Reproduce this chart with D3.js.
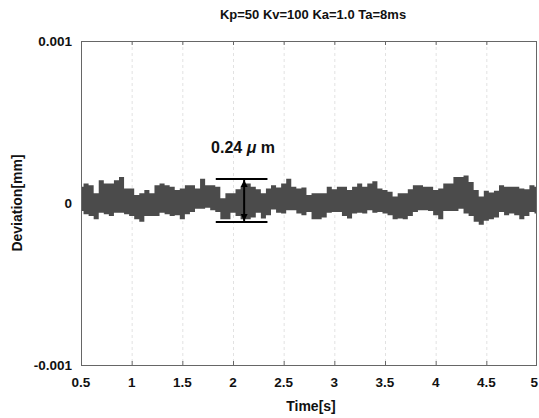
<!DOCTYPE html>
<html>
<head>
<meta charset="utf-8">
<script src="https://cdn.jsdelivr.net/npm/d3@7"></script>
<style>
  body { margin: 0; background: #fff; }
  text { font-family: Arial, "Liberation Sans", sans-serif; font-weight: bold; fill: #111; }
</style>
</head>
<body>
<svg id="chart" width="539" height="418"></svg>
<script>
const title = 'Kp=50 Kv=100 Ka=1.0 Ta=8ms';
const xTicks = [0.5, 1, 1.5, 2, 2.5, 3, 3.5, 4, 4.5, 5];
const yTicks = [0.001, 0, -0.001];
const yTickLabels = ['0.001', '0', '-0.001'];

// deviation envelope, in micrometres, every 0.05 s from 0.5 s
const upperUm = [
  0.10, 0.12, 0.11, 0.06, 0.14, 0.12, 0.12, 0.14, 0.16, 0.09,
  0.09, 0.05, 0.06, 0.08, 0.06, 0.11, 0.12, 0.11, 0.10, 0.08,
  0.09, 0.11, 0.11, 0.09, 0.15, 0.11, 0.11, 0.10, 0.03, 0.06,
  0.06, 0.085, 0.10, 0.12, 0.10, 0.085, 0.06, 0.09, 0.11, 0.095,
  0.12, 0.15, 0.10, 0.09, 0.095, 0.05, 0.06, 0.06, 0.06, 0.10,
  0.085, 0.10, 0.10, 0.08, 0.10, 0.12, 0.10, 0.12, 0.135, 0.09,
  0.08, 0.07, 0.04, 0.06, 0.06, 0.085, 0.11, 0.11, 0.10, 0.10,
  0.08, 0.09, 0.12, 0.12, 0.16, 0.16, 0.17, 0.13, 0.08, 0.04,
  0.075, 0.065, 0.075, 0.11, 0.10, 0.10, 0.10, 0.09, 0.085, 0.11,
  0.10
];
const lowerUm = [
  -0.05, -0.07, -0.08, -0.10, -0.06, -0.07, -0.08, -0.06, -0.06, -0.07,
  -0.08, -0.10, -0.115, -0.08, -0.08, -0.08, -0.06, -0.07, -0.08, -0.075,
  -0.10, -0.07, -0.055, -0.035, -0.035, -0.03, -0.045, -0.055, -0.10, -0.10,
  -0.06, -0.08, -0.10, -0.10, -0.09, -0.06, -0.095, -0.075, -0.04, -0.06,
  -0.065, -0.045, -0.045, -0.065, -0.075, -0.055, -0.10, -0.10, -0.09, -0.06,
  -0.055, -0.055, -0.08, -0.095, -0.065, -0.06, -0.065, -0.045, -0.06, -0.055,
  -0.065, -0.075, -0.10, -0.095, -0.10, -0.08, -0.055, -0.045, -0.045, -0.05,
  -0.075, -0.10, -0.05, -0.05, -0.05, -0.035, -0.065, -0.08, -0.115, -0.135,
  -0.11, -0.10, -0.09, -0.055, -0.075, -0.065, -0.075, -0.10, -0.08, -0.055,
  -0.065
];

// peak-to-peak marker
const markTime = [1.83, 2.34];
const markArrowTime = 2.11;
const markTop = 0.000148;
const markBottom = -0.000117;

const svg = d3.select('#chart');
const margin = { top: 41, right: 2, bottom: 53, left: 81 };
const W = 539, H = 418;
const x = d3.scaleLinear().domain([0.5, 5]).range([margin.left, W - margin.right]);
const y = d3.scaleLinear().domain([-0.001, 0.001]).range([H - margin.bottom, margin.top]);

const defs = svg.append('defs');
defs.append('marker')
  .attr('id', 'ah')
  .attr('viewBox', '0 0 10 10')
  .attr('refX', 10).attr('refY', 5)
  .attr('markerWidth', 7).attr('markerHeight', 8)
  .attr('markerUnits', 'userSpaceOnUse')
  .attr('orient', 'auto-start-reverse')
  .append('path').attr('d', 'M0,0 L10,5 L0,10 Z').attr('fill', '#000');

// vertical dashed grid
svg.append('g').selectAll('line')
  .data(xTicks.slice(1, -1))
  .join('line')
  .attr('x1', d => x(d) + 0.5).attr('x2', d => x(d) + 0.5)
  .attr('y1', y(0.001)).attr('y2', y(-0.001))
  .attr('stroke', '#e2e2e2').attr('stroke-dasharray', '3,3');

// deviation band
const band = upperUm.map((u, i) => ({ t: 0.5 + i * 0.05, hi: u / 1000, lo: lowerUm[i] / 1000 }));
const area = d3.area()
  .x(d => x(d.t))
  .y0(d => y(d.lo))
  .y1(d => y(d.hi))
  .curve(d3.curveStep);
svg.append('path').datum(band).attr('d', area).attr('fill', '#4b4b4b');

// frame
svg.append('rect')
  .attr('x', x(0.5) + 0.5).attr('y', y(0.001) + 0.5)
  .attr('width', x(5) - x(0.5) - 1).attr('height', y(-0.001) - y(0.001))
  .attr('fill', 'none').attr('stroke', '#666');

// inner ticks top and bottom
const tk = svg.append('g').attr('stroke', '#666');
xTicks.slice(1, -1).forEach(d => {
  tk.append('line').attr('x1', x(d) + 0.5).attr('x2', x(d) + 0.5)
    .attr('y1', y(-0.001)).attr('y2', y(-0.001) - 4);
  tk.append('line').attr('x1', x(d) + 0.5).attr('x2', x(d) + 0.5)
    .attr('y1', y(0.001)).attr('y2', y(0.001) + 4);
});

// x labels (last one kept inside the picture edge)
const last = xTicks[xTicks.length - 1];
svg.append('g').selectAll('text')
  .data(xTicks)
  .join('text')
  .attr('x', d => d === last ? W - 1 : x(d)).attr('y', 387)
  .attr('text-anchor', d => d === last ? 'end' : 'middle').attr('font-size', 13.5)
  .text(d => d);

// y labels
svg.append('g').selectAll('text')
  .data(yTicks)
  .join('text')
  .attr('x', 72).attr('y', d => y(d) + 5)
  .attr('text-anchor', 'end').attr('font-size', 13.5)
  .text((d, i) => yTickLabels[i]);

svg.append('text').attr('x', 313).attr('y', 19)
  .attr('text-anchor', 'middle').attr('font-size', 13).text(title);
svg.append('text').attr('x', 311).attr('y', 411)
  .attr('text-anchor', 'middle').attr('font-size', 14).text('Time[s]');
svg.append('text')
  .attr('transform', 'translate(22,' + y(0) + ') rotate(-90)')
  .attr('text-anchor', 'middle').attr('font-size', 14).text('Deviation[mm]');

// annotation
const ann = svg.append('g');
[markTop, markBottom].forEach(v => {
  ann.append('line')
    .attr('x1', x(markTime[0])).attr('x2', x(markTime[1]))
    .attr('y1', y(v)).attr('y2', y(v))
    .attr('stroke', '#000').attr('stroke-width', 2);
});
ann.append('line')
  .attr('x1', x(markArrowTime)).attr('x2', x(markArrowTime))
  .attr('y1', y(markTop) + 1).attr('y2', y(markBottom) - 1)
  .attr('stroke', '#000').attr('stroke-width', 2)
  .attr('marker-start', 'url(#ah)').attr('marker-end', 'url(#ah)');
const lbl = ann.append('text')
  .attr('x', 243).attr('y', 153)
  .attr('text-anchor', 'middle').attr('font-size', 16);
lbl.append('tspan').text('0.24 ');
lbl.append('tspan').attr('font-style', 'italic').text('\u03bc');
lbl.append('tspan').text(' m');
</script>
</body>
</html>
